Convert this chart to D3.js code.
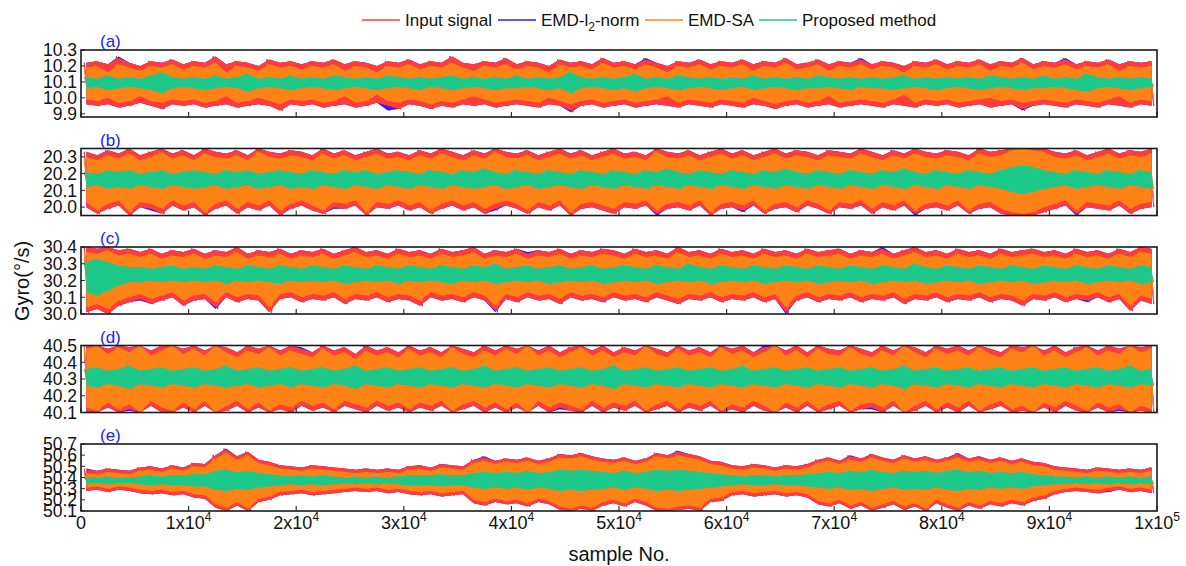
<!DOCTYPE html>
<html>
<head>
<meta charset="utf-8">
<script src="https://cdn.jsdelivr.net/npm/d3@7"></script>
<style>
  html, body { margin: 0; padding: 0; background: #fff; }
  svg { display: block; font-family: "Liberation Sans", Arial, Helvetica, sans-serif; }
</style>
</head>
<body>
<svg id="chart" width="1186" height="566"></svg>
<script>
// Gyro output (°/s) at five constant rates, 100000 samples per trace.
// Each trace is stored min/max-decimated: 100 blocks of 1000 samples,
// written as (block max, block min) pairs.
const seriesNames = ["Input signal", "EMD-l2-norm", "EMD-SA", "Proposed method"];
const panelLabels = ["(a)", "(b)", "(c)", "(d)", "(e)"];
const sampleCount = 100000;

const xTickValues = [0, 10000, 20000, 30000, 40000, 50000, 60000, 70000, 80000, 90000, 100000];
const xTickLabels = ["0", "1x10^4", "2x10^4", "3x10^4", "4x10^4", "5x10^4", "6x10^4", "7x10^4", "8x10^4", "9x10^4", "1x10^5"];

const yDomains = [[9.88, 10.30], [19.95, 20.35], [30.0, 30.4], [40.1, 40.5], [50.1, 50.7]];
const yTicksA = [9.9, 10.0, 10.1, 10.2, 10.3];
const yTicksB = [20.0, 20.1, 20.2, 20.3];
const yTicksC = [30.0, 30.1, 30.2, 30.3, 30.4];
const yTicksD = [40.1, 40.2, 40.3, 40.4, 40.5];
const yTicksE = [50.1, 50.2, 50.3, 50.4, 50.5, 50.6, 50.7];

// ---- panel (a): 10 °/s ----
const aInput = [
10.22,9.96,10.23,9.95,10.21,9.96,10.25,9.94,10.22,9.95,10.20,9.97,10.23,9.95,10.22,9.93,10.24,9.96,10.21,9.95,
10.23,9.96,10.22,9.94,10.26,9.95,10.21,9.96,10.23,9.94,10.22,9.95,10.20,9.96,10.24,9.95,10.22,9.92,10.23,9.96,
10.21,9.95,10.23,9.96,10.22,9.94,10.24,9.95,10.21,9.96,10.23,9.94,10.22,9.95,10.20,9.97,10.23,9.95,10.22,9.93,
10.24,9.96,10.21,9.95,10.23,9.93,10.22,9.95,10.26,9.94,10.22,9.96,10.21,9.95,10.23,9.96,10.22,9.94,10.25,9.95,
10.21,9.96,10.23,9.95,10.22,9.94,10.20,9.96,10.24,9.95,10.22,9.92,10.23,9.95,10.21,9.96,10.25,9.94,10.22,9.95,
10.23,9.96,10.21,9.94,10.24,9.95,10.22,9.96,10.20,9.95,10.23,9.94,10.22,9.96,10.24,9.95,10.21,9.94,10.23,9.96,
10.22,9.95,10.24,9.94,10.21,9.96,10.23,9.95,10.22,9.93,10.25,9.95,10.21,9.96,10.22,9.94,10.24,9.95,10.21,9.96,
10.23,9.94,10.22,9.95,10.24,9.96,10.21,9.95,10.23,9.94,10.22,9.96,10.20,9.95,10.23,9.94,10.22,9.96,10.24,9.95,
10.21,9.96,10.23,9.94,10.22,9.95,10.24,9.96,10.21,9.94,10.23,9.95,10.22,9.96,10.25,9.93,10.21,9.95,10.23,9.96,
10.22,9.95,10.24,9.94,10.21,9.96,10.23,9.95,10.22,9.94,10.24,9.96,10.21,9.95,10.23,9.94,10.22,9.96,10.23,9.95];
const aL2 = [
10.22,9.96,10.23,9.95,10.21,9.96,10.26,9.94,10.22,9.95,10.20,9.97,10.23,9.95,10.22,9.93,10.24,9.96,10.21,9.95,
10.23,9.96,10.22,9.94,10.26,9.95,10.21,9.96,10.23,9.94,10.22,9.95,10.20,9.96,10.24,9.95,10.22,9.92,10.23,9.96,
10.21,9.95,10.23,9.96,10.22,9.94,10.24,9.95,10.21,9.96,10.23,9.94,10.22,9.95,10.20,9.97,10.23,9.92,10.22,9.93,
10.24,9.96,10.21,9.95,10.23,9.93,10.22,9.95,10.26,9.94,10.22,9.96,10.21,9.95,10.23,9.96,10.22,9.94,10.25,9.95,
10.21,9.96,10.23,9.95,10.22,9.94,10.20,9.96,10.24,9.95,10.22,9.91,10.23,9.95,10.21,9.96,10.25,9.94,10.22,9.95,
10.23,9.96,10.21,9.94,10.25,9.95,10.22,9.96,10.20,9.95,10.23,9.94,10.22,9.96,10.24,9.95,10.21,9.94,10.23,9.96,
10.22,9.95,10.24,9.94,10.21,9.96,10.23,9.95,10.22,9.93,10.25,9.95,10.21,9.96,10.22,9.94,10.24,9.95,10.21,9.96,
10.23,9.94,10.22,9.95,10.25,9.96,10.21,9.95,10.23,9.94,10.22,9.96,10.20,9.95,10.23,9.94,10.22,9.96,10.24,9.95,
10.21,9.96,10.23,9.94,10.22,9.95,10.24,9.96,10.21,9.94,10.23,9.95,10.22,9.96,10.25,9.92,10.21,9.95,10.23,9.96,
10.22,9.95,10.25,9.94,10.21,9.96,10.23,9.95,10.22,9.94,10.24,9.96,10.21,9.95,10.23,9.94,10.22,9.96,10.23,9.95];
const aSA = [
10.19,9.99,10.20,9.98,10.16,10.00,10.21,9.97,10.19,9.98,10.17,10.01,10.20,9.98,10.19,9.97,10.21,9.99,10.18,9.98,
10.20,9.99,10.19,9.97,10.22,9.98,10.16,10.01,10.20,9.97,10.19,9.98,10.17,10.00,10.21,9.98,10.19,9.96,10.20,9.99,
10.18,9.98,10.20,9.99,10.19,9.97,10.21,9.98,10.17,10.01,10.20,9.97,10.19,9.98,10.16,10.02,10.20,9.98,10.19,9.97,
10.21,9.99,10.18,9.98,10.20,9.96,10.19,9.98,10.22,9.97,10.19,9.99,10.17,10.01,10.20,9.99,10.19,9.97,10.21,9.98,
10.18,9.99,10.20,9.98,10.19,9.97,10.16,10.00,10.21,9.98,10.19,9.96,10.20,9.98,10.18,9.99,10.22,9.97,10.19,9.98,
10.20,9.99,10.18,9.97,10.21,9.98,10.19,9.99,10.16,10.01,10.20,9.97,10.19,9.99,10.21,9.98,10.18,9.97,10.20,9.99,
10.19,9.98,10.21,9.97,10.17,10.00,10.20,9.98,10.19,9.96,10.22,9.98,10.18,9.99,10.19,9.97,10.21,9.98,10.17,10.01,
10.20,9.97,10.19,9.98,10.21,9.99,10.18,9.98,10.20,9.97,10.19,9.99,10.16,10.02,10.20,9.97,10.19,9.99,10.21,9.98,
10.18,9.99,10.20,9.97,10.19,9.98,10.21,9.99,10.17,10.00,10.20,9.98,10.19,9.99,10.22,9.97,10.18,9.98,10.20,9.99,
10.19,9.98,10.21,9.97,10.18,9.99,10.20,9.98,10.19,9.97,10.21,9.99,10.17,10.01,10.20,9.97,10.19,9.99,10.20,9.98];
const aProp = [
10.13,10.06,10.12,10.07,10.14,10.05,10.12,10.06,10.13,10.07,10.12,10.06,10.14,10.05,10.16,10.03,10.13,10.06,10.12,10.07,
10.13,10.06,10.12,10.05,10.14,10.06,10.12,10.07,10.13,10.06,10.15,10.04,10.12,10.06,10.13,10.07,10.12,10.06,10.14,10.05,
10.12,10.06,10.13,10.07,10.12,10.06,10.14,10.05,10.13,10.06,10.12,10.07,10.13,10.06,10.12,10.05,10.14,10.06,10.13,10.07,
10.12,10.06,10.13,10.05,10.12,10.07,10.13,10.06,10.14,10.05,10.12,10.06,10.13,10.07,10.12,10.06,10.13,10.05,10.12,10.06,
10.14,10.06,10.12,10.07,10.13,10.06,10.12,10.05,10.13,10.06,10.16,10.03,10.13,10.06,10.12,10.07,10.13,10.06,10.12,10.05,
10.13,10.06,10.15,10.04,10.12,10.06,10.13,10.07,10.12,10.06,10.14,10.05,10.13,10.06,10.12,10.07,10.13,10.06,10.12,10.05,
10.13,10.06,10.12,10.07,10.14,10.05,10.12,10.06,10.13,10.07,10.12,10.06,10.13,10.05,10.12,10.06,10.14,10.06,10.13,10.07,
10.12,10.06,10.13,10.05,10.12,10.07,10.13,10.06,10.12,10.06,10.13,10.05,10.14,10.06,10.12,10.07,10.13,10.06,10.12,10.05,
10.13,10.06,10.12,10.07,10.13,10.06,10.12,10.05,10.14,10.06,10.13,10.07,10.12,10.06,10.13,10.05,10.12,10.06,10.14,10.06,
10.12,10.07,10.13,10.06,10.12,10.05,10.15,10.04,10.13,10.06,10.12,10.07,10.13,10.06,10.12,10.05,10.13,10.06,10.12,10.07];

// ---- panel (b): 20 °/s ----
const bInput = [
20.33,20.00,20.31,19.96,20.34,19.99,20.32,20.01,20.35,19.95,20.31,20.00,20.33,19.99,20.35,19.96,20.32,20.01,20.34,19.98,
20.31,20.00,20.35,19.95,20.33,19.99,20.32,20.01,20.34,19.96,20.31,20.00,20.35,19.98,20.33,20.01,20.32,19.95,20.34,19.99,
20.33,20.01,20.31,19.98,20.35,19.96,20.32,20.00,20.34,19.99,20.31,20.01,20.33,19.95,20.35,20.00,20.32,19.99,20.33,20.01,
20.31,19.98,20.34,20.00,20.32,19.96,20.35,19.99,20.33,20.01,20.31,19.98,20.34,20.00,20.32,19.96,20.35,19.99,20.33,20.01,
20.32,19.99,20.34,19.96,20.31,20.00,20.33,19.98,20.35,20.01,20.32,19.95,20.34,19.99,20.31,20.00,20.33,19.98,20.35,19.96,
20.32,20.00,20.33,19.99,20.31,20.01,20.35,19.96,20.33,19.99,20.32,20.00,20.34,19.98,20.31,20.01,20.33,19.95,20.35,19.99,
20.32,20.00,20.34,19.98,20.31,20.01,20.33,19.96,20.35,19.99,20.32,20.00,20.34,19.97,20.33,20.01,20.31,19.99,20.34,19.96,
20.33,20.00,20.32,19.99,20.35,20.01,20.33,19.96,20.31,20.00,20.34,19.98,20.32,20.01,20.35,19.96,20.33,19.99,20.32,20.00,
20.34,19.98,20.33,20.01,20.31,19.96,20.35,19.99,20.33,20.00,20.34,19.96,20.35,19.95,20.35,19.95,20.35,19.95,20.35,19.97,
20.33,19.99,20.32,20.01,20.34,19.96,20.31,20.00,20.33,19.99,20.35,19.98,20.32,20.01,20.34,19.96,20.33,19.99,20.35,20.00];
const bL2 = [
20.33,20.00,20.31,19.96,20.34,19.99,20.32,20.01,20.35,19.95,20.31,20.00,20.33,19.98,20.35,19.96,20.32,20.01,20.34,19.98,
20.31,20.00,20.35,19.95,20.33,19.99,20.32,20.01,20.34,19.96,20.31,20.00,20.35,19.98,20.33,20.01,20.32,19.95,20.34,19.99,
20.33,20.01,20.31,19.98,20.35,19.96,20.32,19.99,20.34,19.99,20.31,20.01,20.33,19.95,20.35,20.00,20.32,19.99,20.33,20.01,
20.31,19.98,20.34,20.00,20.32,19.96,20.35,19.99,20.33,20.01,20.31,19.98,20.34,20.00,20.32,19.96,20.35,19.98,20.33,20.01,
20.32,19.99,20.34,19.96,20.31,20.00,20.33,19.98,20.35,20.01,20.32,19.95,20.34,19.99,20.31,20.00,20.33,19.98,20.35,19.96,
20.32,20.00,20.33,19.99,20.31,20.01,20.35,19.95,20.33,19.99,20.32,20.00,20.34,19.98,20.31,20.01,20.33,19.95,20.35,19.99,
20.32,20.00,20.34,19.97,20.31,20.01,20.33,19.96,20.35,19.99,20.32,20.00,20.34,19.97,20.33,20.01,20.31,19.99,20.34,19.96,
20.33,20.00,20.32,19.99,20.35,20.01,20.33,19.96,20.31,20.00,20.34,19.98,20.32,20.01,20.35,19.95,20.33,19.99,20.32,20.00,
20.34,19.98,20.33,20.01,20.31,19.96,20.35,19.99,20.33,20.00,20.34,19.96,20.35,19.95,20.35,19.95,20.35,19.95,20.35,19.97,
20.33,19.99,20.32,20.01,20.34,19.95,20.31,20.00,20.33,19.99,20.35,19.98,20.32,20.01,20.34,19.96,20.33,19.99,20.35,20.00];
const bSA = [
20.30,20.03,20.28,19.98,20.31,20.02,20.29,20.04,20.32,19.97,20.28,20.03,20.30,20.02,20.33,19.99,20.29,20.04,20.31,20.01,
20.28,20.03,20.32,19.97,20.30,20.02,20.29,20.04,20.31,19.99,20.28,20.03,20.33,20.01,20.30,20.04,20.29,19.98,20.31,20.02,
20.30,20.04,20.28,20.01,20.32,19.98,20.29,20.03,20.31,20.02,20.28,20.04,20.30,19.97,20.32,20.03,20.29,20.02,20.30,20.04,
20.28,20.01,20.31,20.03,20.29,19.98,20.32,20.02,20.30,20.04,20.28,20.01,20.31,20.03,20.29,19.99,20.33,20.02,20.30,20.04,
20.29,20.02,20.31,19.98,20.28,20.03,20.30,20.01,20.32,20.04,20.29,19.97,20.31,20.02,20.28,20.03,20.30,20.01,20.32,19.99,
20.29,20.03,20.30,20.02,20.28,20.04,20.33,19.98,20.30,20.02,20.29,20.03,20.31,20.01,20.28,20.04,20.30,19.97,20.32,20.02,
20.29,20.03,20.31,20.01,20.28,20.04,20.30,19.98,20.32,20.02,20.29,20.03,20.31,20.00,20.30,20.04,20.28,20.02,20.31,19.98,
20.30,20.03,20.29,20.02,20.32,20.04,20.30,19.99,20.28,20.03,20.31,20.01,20.29,20.04,20.32,19.98,20.30,20.02,20.29,20.03,
20.31,20.01,20.30,20.04,20.28,19.98,20.32,20.02,20.30,20.03,20.31,19.99,20.34,19.97,20.35,19.96,20.34,19.97,20.33,20.00,
20.30,20.02,20.29,20.04,20.31,19.98,20.28,20.03,20.30,20.02,20.32,20.01,20.29,20.04,20.31,19.99,20.30,20.02,20.32,20.03];
const bProp = [
20.21,20.12,20.20,20.13,20.22,20.11,20.21,20.12,20.22,20.11,20.20,20.13,20.21,20.12,20.22,20.11,20.20,20.13,20.21,20.12,
20.22,20.11,20.21,20.12,20.20,20.13,20.22,20.11,20.21,20.12,20.22,20.13,20.20,20.11,20.21,20.12,20.22,20.13,20.21,20.11,
20.20,20.12,20.22,20.11,20.21,20.13,20.20,20.12,20.22,20.11,20.21,20.13,20.22,20.12,20.20,20.11,20.21,20.13,20.22,20.12,
20.21,20.11,20.20,20.13,20.22,20.12,20.21,20.11,20.20,20.13,20.22,20.12,20.21,20.11,20.23,20.12,20.21,20.13,20.20,20.11,
20.22,20.12,20.21,20.13,20.20,20.11,20.22,20.12,20.21,20.13,20.20,20.12,20.22,20.11,20.21,20.13,20.20,20.12,20.22,20.11,
20.21,20.13,20.20,20.12,20.22,20.11,20.21,20.13,20.23,20.12,20.21,20.11,20.20,20.13,20.22,20.12,20.21,20.11,20.20,20.13,
20.22,20.12,20.21,20.11,20.20,20.13,20.22,20.12,20.21,20.11,20.23,20.13,20.21,20.12,20.20,20.11,20.22,20.13,20.21,20.12,
20.20,20.11,20.22,20.13,20.21,20.12,20.20,20.11,20.22,20.13,20.21,20.12,20.23,20.11,20.21,20.13,20.20,20.12,20.22,20.11,
20.21,20.13,20.20,20.12,20.22,20.11,20.21,20.13,20.20,20.12,20.22,20.11,20.24,20.09,20.25,20.08,20.24,20.09,20.22,20.11,
20.21,20.12,20.20,20.13,20.22,20.11,20.21,20.12,20.20,20.13,20.22,20.12,20.21,20.11,20.20,20.13,20.22,20.12,20.21,20.11];

// ---- panel (c): 30 °/s ----
const cInput = [
30.40,30.01,30.39,30.03,30.40,30.00,30.38,30.05,30.39,30.07,30.37,30.09,30.39,30.06,30.36,30.08,30.38,30.10,30.37,30.05,
30.39,30.08,30.36,30.09,30.38,30.04,30.37,30.10,30.40,30.07,30.36,30.09,30.38,30.08,30.37,30.01,30.39,30.09,30.36,30.10,
30.38,30.07,30.37,30.09,30.39,30.08,30.36,30.10,30.38,30.06,30.40,30.09,30.37,30.08,30.38,30.10,30.36,30.07,30.39,30.09,
30.37,30.08,30.38,30.05,30.36,30.10,30.39,30.08,30.37,30.09,30.38,30.07,30.40,30.10,30.36,30.08,30.38,30.02,30.37,30.09,
30.39,30.07,30.36,30.10,30.38,30.08,30.37,30.09,30.39,30.06,30.36,30.10,30.38,30.08,30.37,30.09,30.39,30.07,30.38,30.10,
30.36,30.08,30.39,30.09,30.37,30.07,30.38,30.10,30.36,30.08,30.40,30.06,30.37,30.09,30.38,30.08,30.36,30.10,30.39,30.07,
30.37,30.09,30.38,30.08,30.36,30.10,30.39,30.07,30.37,30.09,30.38,30.01,30.36,30.08,30.39,30.10,30.37,30.07,30.38,30.09,
30.39,30.08,30.36,30.10,30.38,30.07,30.37,30.09,30.39,30.08,30.36,30.10,30.38,30.06,30.40,30.09,30.37,30.08,30.38,30.10,
30.36,30.07,30.39,30.09,30.37,30.08,30.38,30.10,30.36,30.07,30.39,30.09,30.37,30.08,30.38,30.05,30.39,30.09,30.37,30.08,
30.38,30.10,30.36,30.07,30.39,30.09,30.37,30.08,30.38,30.10,30.36,30.07,30.39,30.09,30.37,30.02,30.40,30.08,30.39,30.06];
const cL2 = [
30.40,30.01,30.39,30.03,30.40,30.00,30.38,30.05,30.39,30.07,30.37,30.08,30.39,30.06,30.36,30.08,30.38,30.10,30.37,30.05,
30.39,30.08,30.36,30.09,30.38,30.03,30.37,30.10,30.40,30.07,30.36,30.09,30.38,30.08,30.37,30.01,30.39,30.09,30.36,30.10,
30.38,30.07,30.37,30.09,30.39,30.08,30.36,30.10,30.38,30.06,30.40,30.09,30.37,30.08,30.38,30.10,30.36,30.07,30.39,30.09,
30.37,30.08,30.38,30.05,30.36,30.10,30.39,30.08,30.37,30.09,30.38,30.07,30.40,30.10,30.36,30.08,30.38,30.01,30.37,30.09,
30.39,30.07,30.37,30.10,30.38,30.08,30.37,30.09,30.39,30.06,30.36,30.10,30.38,30.08,30.37,30.09,30.39,30.07,30.38,30.10,
30.36,30.08,30.39,30.09,30.37,30.07,30.38,30.10,30.36,30.08,30.40,30.06,30.37,30.09,30.38,30.08,30.36,30.10,30.39,30.07,
30.37,30.09,30.38,30.08,30.36,30.10,30.39,30.07,30.37,30.09,30.38,30.00,30.36,30.08,30.39,30.10,30.37,30.07,30.38,30.09,
30.39,30.08,30.36,30.10,30.38,30.07,30.37,30.09,30.40,30.08,30.36,30.10,30.38,30.06,30.40,30.09,30.37,30.08,30.38,30.10,
30.36,30.07,30.39,30.09,30.37,30.08,30.38,30.10,30.36,30.07,30.39,30.09,30.37,30.08,30.38,30.05,30.39,30.09,30.37,30.08,
30.38,30.10,30.36,30.07,30.39,30.09,30.37,30.07,30.38,30.10,30.36,30.07,30.39,30.09,30.37,30.02,30.40,30.08,30.39,30.06];
const cSA = [
30.37,30.04,30.36,30.06,30.38,30.03,30.35,30.08,30.36,30.10,30.34,30.12,30.36,30.09,30.33,30.11,30.35,30.13,30.34,30.08,
30.36,30.11,30.33,30.12,30.35,30.07,30.34,30.13,30.37,30.10,30.33,30.12,30.35,30.11,30.34,30.04,30.36,30.12,30.33,30.13,
30.35,30.10,30.34,30.12,30.36,30.11,30.33,30.13,30.35,30.09,30.37,30.12,30.34,30.11,30.35,30.13,30.33,30.10,30.36,30.12,
30.34,30.11,30.35,30.08,30.33,30.13,30.36,30.11,30.34,30.12,30.35,30.10,30.37,30.13,30.33,30.11,30.35,30.05,30.34,30.12,
30.36,30.10,30.33,30.13,30.35,30.11,30.34,30.12,30.36,30.09,30.33,30.13,30.35,30.11,30.34,30.12,30.36,30.10,30.35,30.13,
30.33,30.11,30.36,30.12,30.34,30.10,30.35,30.13,30.33,30.11,30.37,30.09,30.34,30.12,30.35,30.11,30.33,30.13,30.36,30.10,
30.34,30.12,30.35,30.11,30.33,30.13,30.36,30.10,30.34,30.12,30.35,30.04,30.33,30.11,30.36,30.13,30.34,30.10,30.35,30.12,
30.36,30.11,30.33,30.13,30.35,30.10,30.34,30.12,30.36,30.11,30.33,30.13,30.35,30.09,30.37,30.12,30.34,30.11,30.35,30.13,
30.33,30.10,30.36,30.12,30.34,30.11,30.35,30.13,30.33,30.10,30.36,30.12,30.34,30.11,30.35,30.08,30.36,30.12,30.34,30.11,
30.35,30.13,30.33,30.10,30.36,30.12,30.34,30.11,30.35,30.13,30.33,30.10,30.36,30.12,30.34,30.05,30.37,30.11,30.36,30.09];
const cProp = [
30.31,30.13,30.33,30.11,30.31,30.14,30.29,30.17,30.28,30.19,30.28,30.19,30.27,30.20,30.28,30.19,30.29,30.20,30.27,30.19,
30.28,30.20,30.27,30.19,30.29,30.20,30.28,30.18,30.27,30.20,30.29,30.19,30.28,30.20,30.27,30.19,30.29,30.18,30.28,30.20,
30.27,30.19,30.29,30.20,30.28,30.19,30.27,30.20,30.29,30.18,30.28,30.19,30.27,30.20,30.29,30.19,30.28,30.20,30.27,30.18,
30.29,30.20,30.28,30.19,30.27,30.20,30.29,30.19,30.28,30.18,30.27,30.20,30.29,30.19,30.28,30.20,30.30,30.18,30.27,30.19,
30.28,30.20,30.29,30.19,30.27,30.20,30.28,30.18,30.29,30.19,30.27,30.20,30.28,30.19,30.29,30.20,30.27,30.18,30.28,30.19,
30.29,30.20,30.28,30.19,30.27,30.20,30.29,30.18,30.28,30.19,30.27,30.20,30.30,30.19,30.28,30.20,30.27,30.18,30.29,30.19,
30.28,30.20,30.27,30.19,30.29,30.20,30.28,30.18,30.27,30.19,30.29,30.20,30.28,30.19,30.27,30.20,30.29,30.18,30.28,30.19,
30.27,30.20,30.29,30.19,30.28,30.20,30.27,30.18,30.29,30.19,30.28,30.20,30.27,30.19,30.30,30.20,30.28,30.18,30.27,30.19,
30.29,30.20,30.28,30.19,30.27,30.20,30.29,30.18,30.28,30.19,30.27,30.20,30.29,30.19,30.28,30.20,30.27,30.18,30.29,30.19,
30.28,30.20,30.27,30.19,30.29,30.20,30.28,30.18,30.27,30.19,30.29,30.20,30.28,30.19,30.27,30.20,30.29,30.18,30.28,30.19];

// ---- panel (d): 40 °/s ----
const dInput = [
40.50,40.10,40.50,40.10,40.48,40.13,40.50,40.10,40.49,40.12,40.50,40.10,40.47,40.14,40.50,40.10,40.50,40.10,40.48,40.13,
40.50,40.10,40.47,40.14,40.50,40.10,40.49,40.11,40.46,40.14,40.50,40.10,40.48,40.13,40.50,40.10,40.47,40.12,40.50,40.10,
40.48,40.14,40.46,40.11,40.50,40.13,40.47,40.10,40.49,40.14,40.45,40.12,40.50,40.10,40.47,40.14,40.49,40.11,40.46,40.13,
40.50,40.10,40.47,40.13,40.49,40.11,40.46,40.14,40.50,40.10,40.48,40.12,40.46,40.14,40.50,40.10,40.47,40.13,40.50,40.10,
40.48,40.13,40.50,40.10,40.47,40.14,40.50,40.10,40.46,40.13,40.49,40.11,40.50,40.10,40.47,40.14,40.50,40.10,40.46,40.13,
40.49,40.11,40.47,40.14,40.50,40.10,40.48,40.12,40.46,40.14,40.50,40.10,40.47,40.13,40.49,40.11,40.46,40.14,40.50,40.10,
40.48,40.12,40.50,40.10,40.46,40.14,40.49,40.11,40.50,40.10,40.47,40.13,40.50,40.10,40.46,40.14,40.50,40.10,40.48,40.12,
40.47,40.14,40.50,40.10,40.48,40.12,40.46,40.13,40.50,40.10,40.47,40.14,40.50,40.10,40.49,40.11,40.46,40.14,40.50,40.10,
40.48,40.13,40.50,40.10,40.47,40.14,40.50,40.10,40.48,40.12,40.46,40.14,40.50,40.10,40.49,40.11,40.50,40.10,40.47,40.13,
40.50,40.10,40.46,40.14,40.49,40.11,40.50,40.10,40.47,40.13,40.50,40.10,40.48,40.12,40.50,40.10,40.49,40.11,40.50,40.10];
const dL2 = [
40.50,40.10,40.50,40.10,40.48,40.13,40.50,40.10,40.49,40.11,40.50,40.10,40.47,40.14,40.50,40.10,40.50,40.10,40.48,40.13,
40.50,40.10,40.47,40.14,40.50,40.10,40.49,40.11,40.46,40.14,40.50,40.10,40.48,40.13,40.50,40.10,40.47,40.12,40.50,40.10,
40.49,40.14,40.46,40.11,40.50,40.13,40.47,40.10,40.49,40.14,40.45,40.12,40.50,40.10,40.47,40.14,40.49,40.11,40.46,40.13,
40.50,40.10,40.47,40.13,40.49,40.11,40.46,40.14,40.50,40.10,40.48,40.12,40.46,40.14,40.50,40.10,40.47,40.13,40.50,40.10,
40.48,40.13,40.50,40.10,40.47,40.14,40.50,40.10,40.46,40.12,40.49,40.11,40.50,40.10,40.47,40.14,40.50,40.10,40.46,40.13,
40.49,40.11,40.47,40.14,40.50,40.10,40.48,40.12,40.46,40.14,40.50,40.10,40.47,40.13,40.49,40.11,40.46,40.14,40.50,40.10,
40.48,40.12,40.50,40.10,40.46,40.14,40.50,40.11,40.50,40.10,40.47,40.13,40.50,40.10,40.46,40.14,40.50,40.10,40.48,40.12,
40.47,40.14,40.50,40.10,40.48,40.12,40.46,40.12,40.50,40.10,40.47,40.14,40.50,40.10,40.49,40.11,40.46,40.14,40.50,40.10,
40.48,40.13,40.50,40.10,40.47,40.14,40.50,40.10,40.48,40.12,40.46,40.14,40.50,40.10,40.49,40.11,40.50,40.10,40.47,40.13,
40.50,40.10,40.46,40.14,40.49,40.11,40.50,40.10,40.47,40.13,40.50,40.10,40.48,40.11,40.50,40.10,40.49,40.11,40.50,40.10];
const dSA = [
40.48,40.13,40.50,40.11,40.45,40.16,40.49,40.12,40.46,40.15,40.50,40.10,40.44,40.17,40.47,40.13,40.50,40.11,40.45,40.16,
40.48,40.12,40.44,40.17,40.50,40.10,40.46,40.14,40.43,40.17,40.47,40.12,40.45,40.16,40.49,40.11,40.44,40.15,40.47,40.13,
40.45,40.17,40.43,40.14,40.48,40.16,40.44,40.12,40.46,40.17,40.42,40.15,40.47,40.13,40.44,40.17,40.46,40.14,40.43,40.16,
40.48,40.12,40.44,40.16,40.46,40.14,40.43,40.17,40.49,40.11,40.45,40.15,40.43,40.17,40.47,40.13,40.44,40.16,40.48,40.12,
40.45,40.16,40.50,40.10,40.44,40.17,40.47,40.13,40.43,40.16,40.46,40.14,40.49,40.12,40.44,40.17,40.47,40.13,40.43,40.16,
40.46,40.14,40.44,40.17,40.50,40.11,40.45,40.15,40.43,40.17,40.48,40.12,40.44,40.16,40.46,40.14,40.43,40.17,40.49,40.11,
40.45,40.15,40.47,40.13,40.43,40.17,40.46,40.14,40.50,40.10,40.44,40.16,40.47,40.13,40.43,40.17,40.48,40.12,40.45,40.15,
40.44,40.17,40.49,40.11,40.45,40.15,40.43,40.16,40.47,40.13,40.44,40.17,40.50,40.10,40.46,40.14,40.43,40.17,40.48,40.12,
40.45,40.16,40.47,40.13,40.44,40.17,40.49,40.11,40.45,40.15,40.43,40.17,40.48,40.12,40.46,40.14,40.50,40.10,40.44,40.16,
40.47,40.13,40.43,40.17,40.46,40.14,40.49,40.11,40.44,40.16,40.47,40.13,40.45,40.15,40.50,40.10,40.46,40.14,40.48,40.12];
const dProp = [
40.36,40.26,40.37,40.25,40.35,40.27,40.36,40.26,40.38,40.24,40.35,40.27,40.36,40.26,40.37,40.25,40.35,40.27,40.36,40.26,
40.37,40.25,40.35,40.27,40.36,40.26,40.38,40.25,40.35,40.26,40.36,40.27,40.37,40.25,40.35,40.26,40.36,40.27,40.37,40.25,
40.35,40.27,40.36,40.26,40.37,40.25,40.35,40.27,40.36,40.26,40.38,40.24,40.35,40.27,40.36,40.26,40.37,40.25,40.35,40.27,
40.36,40.26,40.37,40.25,40.35,40.27,40.36,40.26,40.37,40.25,40.35,40.27,40.36,40.26,40.38,40.25,40.35,40.27,40.36,40.26,
40.37,40.25,40.35,40.27,40.36,40.26,40.37,40.25,40.35,40.27,40.36,40.26,40.37,40.25,40.35,40.27,40.36,40.26,40.38,40.24,
40.35,40.27,40.36,40.26,40.37,40.25,40.35,40.27,40.36,40.26,40.37,40.25,40.35,40.27,40.36,40.26,40.37,40.25,40.35,40.27,
40.36,40.26,40.38,40.25,40.35,40.27,40.36,40.26,40.37,40.25,40.35,40.27,40.36,40.26,40.37,40.25,40.35,40.27,40.36,40.26,
40.37,40.25,40.35,40.27,40.36,40.26,40.37,40.25,40.35,40.27,40.36,40.26,40.38,40.24,40.35,40.27,40.36,40.26,40.37,40.25,
40.35,40.27,40.36,40.26,40.37,40.25,40.35,40.27,40.36,40.26,40.37,40.25,40.35,40.27,40.36,40.26,40.37,40.25,40.35,40.27,
40.36,40.26,40.37,40.25,40.35,40.27,40.36,40.26,40.37,40.25,40.35,40.27,40.36,40.26,40.38,40.25,40.35,40.27,40.36,40.26];

// ---- panel (e): 50 °/s ----
const eInput = [
50.47,50.28,50.46,50.29,50.48,50.27,50.47,50.29,50.46,50.28,50.49,50.26,50.50,50.25,50.48,50.26,50.51,50.24,50.49,50.25,
50.53,50.22,50.52,50.21,50.60,50.13,50.65,50.10,50.59,50.15,50.63,50.10,50.56,50.18,50.54,50.20,50.51,50.24,50.50,50.25,
50.49,50.26,50.51,50.24,50.50,50.25,50.49,50.26,50.48,50.27,50.47,50.28,50.48,50.27,50.47,50.28,50.48,50.26,50.47,50.27,
50.50,50.25,50.51,50.24,50.49,50.25,50.52,50.23,50.51,50.24,50.50,50.25,50.56,50.17,50.58,50.15,50.55,50.18,50.57,50.16,
50.56,50.17,50.58,50.14,50.55,50.18,50.57,50.16,50.61,50.11,50.60,50.10,50.62,50.12,50.59,50.10,50.57,50.15,50.56,50.17,
50.58,50.14,50.55,50.18,50.57,50.15,50.62,50.10,50.60,50.10,50.63,50.11,50.61,50.12,50.59,50.10,50.55,50.18,50.54,50.19,
50.51,50.24,50.50,50.25,50.52,50.23,50.51,50.24,50.49,50.25,50.51,50.23,50.50,50.24,50.52,50.22,50.56,50.16,50.58,50.14,
50.55,50.17,50.59,50.12,50.57,50.15,50.61,50.10,50.58,50.13,50.56,50.16,50.60,50.11,50.57,50.14,50.59,50.10,50.56,50.17,
50.58,50.13,50.61,50.10,50.57,50.15,50.59,50.12,50.56,50.16,50.58,50.14,50.55,50.17,50.57,50.15,50.54,50.19,50.53,50.21,
50.50,50.25,50.49,50.27,50.48,50.28,50.47,50.27,50.49,50.26,50.48,50.28,50.47,50.29,50.48,50.27,50.47,50.28,50.49,50.26];
const eL2 = [
50.48,50.28,50.46,50.29,50.48,50.27,50.47,50.29,50.46,50.28,50.49,50.26,50.50,50.25,50.48,50.26,50.51,50.24,50.49,50.25,
50.53,50.22,50.52,50.21,50.60,50.13,50.66,50.10,50.59,50.15,50.63,50.10,50.56,50.18,50.54,50.20,50.51,50.24,50.50,50.25,
50.49,50.26,50.51,50.24,50.50,50.25,50.49,50.26,50.48,50.27,50.47,50.28,50.48,50.27,50.47,50.28,50.48,50.26,50.47,50.27,
50.50,50.25,50.51,50.24,50.49,50.25,50.52,50.23,50.51,50.24,50.50,50.25,50.56,50.17,50.59,50.15,50.55,50.18,50.57,50.16,
50.56,50.17,50.58,50.14,50.55,50.18,50.57,50.16,50.61,50.11,50.60,50.10,50.62,50.12,50.59,50.10,50.57,50.15,50.56,50.17,
50.58,50.14,50.55,50.18,50.57,50.15,50.62,50.10,50.60,50.10,50.64,50.11,50.61,50.12,50.59,50.10,50.55,50.18,50.54,50.19,
50.51,50.24,50.50,50.25,50.52,50.23,50.51,50.24,50.49,50.25,50.51,50.23,50.50,50.24,50.52,50.22,50.56,50.16,50.58,50.14,
50.55,50.17,50.60,50.12,50.57,50.15,50.61,50.10,50.58,50.13,50.56,50.16,50.60,50.11,50.57,50.14,50.59,50.10,50.56,50.17,
50.58,50.13,50.62,50.10,50.57,50.15,50.59,50.12,50.56,50.16,50.58,50.14,50.55,50.17,50.57,50.15,50.54,50.19,50.53,50.21,
50.50,50.25,50.49,50.27,50.48,50.28,50.47,50.27,50.49,50.26,50.48,50.27,50.47,50.29,50.48,50.27,50.47,50.28,50.49,50.26];
const eSA = [
50.44,50.31,50.43,50.32,50.45,50.30,50.44,50.32,50.43,50.31,50.46,50.29,50.47,50.28,50.45,50.29,50.48,50.27,50.46,50.28,
50.50,50.25,50.49,50.24,50.57,50.16,50.62,50.13,50.56,50.18,50.60,50.12,50.53,50.21,50.51,50.23,50.48,50.27,50.47,50.28,
50.46,50.29,50.48,50.27,50.47,50.28,50.46,50.29,50.45,50.30,50.44,50.31,50.45,50.30,50.44,50.31,50.45,50.29,50.44,50.30,
50.47,50.28,50.48,50.27,50.46,50.28,50.49,50.26,50.48,50.27,50.47,50.28,50.53,50.20,50.55,50.18,50.52,50.21,50.54,50.19,
50.53,50.20,50.55,50.17,50.52,50.21,50.54,50.19,50.58,50.14,50.57,50.12,50.59,50.15,50.56,50.13,50.54,50.18,50.53,50.20,
50.55,50.17,50.52,50.21,50.54,50.18,50.59,50.13,50.57,50.12,50.60,50.14,50.58,50.15,50.56,50.13,50.52,50.21,50.51,50.22,
50.48,50.27,50.47,50.28,50.49,50.26,50.48,50.27,50.46,50.28,50.48,50.26,50.47,50.27,50.49,50.25,50.53,50.19,50.55,50.17,
50.52,50.20,50.56,50.15,50.54,50.18,50.58,50.13,50.55,50.16,50.53,50.19,50.57,50.14,50.54,50.17,50.56,50.12,50.53,50.20,
50.55,50.16,50.58,50.13,50.54,50.18,50.56,50.15,50.53,50.19,50.55,50.17,50.52,50.20,50.54,50.18,50.51,50.22,50.50,50.24,
50.47,50.28,50.46,50.30,50.45,50.31,50.44,50.30,50.46,50.29,50.45,50.31,50.44,50.32,50.45,50.30,50.44,50.31,50.46,50.29];
const eProp = [
50.40,50.35,50.40,50.35,50.41,50.34,50.40,50.35,50.40,50.35,50.41,50.34,50.42,50.33,50.41,50.34,50.42,50.33,50.42,50.33,
50.43,50.32,50.43,50.32,50.46,50.29,50.47,50.28,50.45,50.30,50.46,50.29,50.44,50.31,50.43,50.32,50.42,50.33,50.41,50.34,
50.42,50.33,50.41,50.34,50.42,50.33,50.41,50.34,50.40,50.35,50.41,50.34,50.40,50.35,50.41,50.34,50.40,50.35,50.41,50.34,
50.42,50.33,50.42,50.33,50.42,50.33,50.43,50.32,50.42,50.33,50.42,50.33,50.44,50.31,50.45,50.30,50.44,50.31,50.45,50.30,
50.44,50.31,50.46,50.29,50.44,50.31,50.45,50.30,50.47,50.28,50.46,50.29,50.47,50.28,50.46,50.29,50.45,50.30,50.44,50.31,
50.46,50.29,50.44,50.31,50.45,50.30,50.47,50.28,50.46,50.29,50.47,50.28,50.46,50.29,50.45,50.30,50.44,50.31,50.43,50.32,
50.42,50.33,50.41,50.34,50.42,50.33,50.42,50.33,50.41,50.34,50.42,50.33,50.42,50.33,50.43,50.32,50.44,50.31,50.45,50.30,
50.44,50.31,50.46,50.29,50.45,50.30,50.47,50.28,50.45,50.30,50.44,50.31,50.46,50.29,50.45,50.30,50.46,50.29,50.44,50.31,
50.46,50.29,50.47,50.28,50.45,50.30,50.46,50.29,50.44,50.31,50.45,50.30,50.44,50.31,50.45,50.30,50.43,50.32,50.42,50.33,
50.41,50.34,50.41,50.34,50.40,50.35,50.41,50.34,50.40,50.35,50.41,50.34,50.40,50.35,50.41,50.34,50.40,50.35,50.41,50.34];

// ---- drawing ----
const colors = ["#ff3b3b", "#3d12ff", "#ff8216", "#1dc98a"];
// l2 trace sits under the input trace; SA and the proposed method on top
const drawOrder = [1, 0, 2, 3];

const panelData = [
  { label: panelLabels[0], domain: yDomains[0], ticks: yTicksA, series: [aInput, aL2, aSA, aProp] },
  { label: panelLabels[1], domain: yDomains[1], ticks: yTicksB, series: [bInput, bL2, bSA, bProp] },
  { label: panelLabels[2], domain: yDomains[2], ticks: yTicksC, series: [cInput, cL2, cSA, cProp] },
  { label: panelLabels[3], domain: yDomains[3], ticks: yTicksD, series: [dInput, dL2, dSA, dProp] },
  { label: panelLabels[4], domain: yDomains[4], ticks: yTicksE, series: [eInput, eL2, eSA, eProp] }
];

const svg = d3.select("#chart");
const W = 1186, H = 566;
const left = 81, right = 1157;
const panelTop0 = 50, panelStep = 98.5, panelH = 67;

svg.append("rect").attr("width", W).attr("height", H).attr("fill", "#fff");

const x = d3.scaleLinear().domain([0, sampleCount]).range([left, right]);

// turn (max, min) pairs into one record per block
function toBlocks(values) {
  const n = values.length / 2;
  const block = sampleCount / n;
  return d3.range(n).map(k => ({
    start: k * block,
    mid: (k + 0.5) * block,
    end: (k + 1) * block,
    hi: values[2 * k],
    lo: values[2 * k + 1]
  }));
}

panelData.forEach((p, pi) => {
  const top = panelTop0 + pi * panelStep;
  const bottom = top + panelH;
  const y = d3.scaleLinear().domain(p.domain).range([bottom, top]);
  const g = svg.append("g").attr("class", "panel");

  const clipId = "clip-" + pi;
  g.append("clipPath").attr("id", clipId)
    .append("rect").attr("x", left).attr("y", top).attr("width", right - left).attr("height", panelH);

  const plot = g.append("g").attr("clip-path", `url(#${clipId})`);
  drawOrder.forEach(si => {
    const blocks = toBlocks(p.series[si]);
    // envelope of each block
    const band = d3.area()
      .x(d => x(d.mid))
      .y0(d => y(d.lo))
      .y1(d => y(d.hi));
    plot.append("path")
      .datum(blocks)
      .attr("d", band)
      .attr("fill", colors[si])
      .attr("stroke", "none");
    // decimated trace: max then min within each block
    const trace = [];
    blocks.forEach(b => {
      trace.push([b.start + (b.end - b.start) * 0.3, b.hi]);
      trace.push([b.start + (b.end - b.start) * 0.7, b.lo]);
    });
    plot.append("path")
      .datum(trace)
      .attr("d", d3.line().x(d => x(d[0])).y(d => y(d[1])))
      .attr("fill", "none")
      .attr("stroke", colors[si])
      .attr("stroke-width", si === 1 ? 0.8 : 1.1)
      .attr("stroke-linejoin", "round");
  });

  // y axis ticks (inward) and labels
  p.ticks.forEach(t => {
    g.append("line").attr("x1", left).attr("x2", left + 4)
      .attr("y1", y(t)).attr("y2", y(t)).attr("stroke", "#333").attr("stroke-width", 1);
    g.append("text").attr("x", left - 4).attr("y", y(t)).attr("dy", "0.36em")
      .attr("text-anchor", "end").attr("font-size", 17.5).attr("fill", "#111")
      .text(d3.format(".1f")(t));
  });

  // x ticks (inward) at the bottom of every panel
  xTickValues.forEach(v => {
    g.append("line").attr("x1", x(v)).attr("x2", x(v))
      .attr("y1", bottom).attr("y2", bottom - 5).attr("stroke", "#333").attr("stroke-width", 1.2);
  });

  // frame
  g.append("rect").attr("x", left).attr("y", top).attr("width", right - left).attr("height", panelH)
    .attr("fill", "none").attr("stroke", "#1a1a1a").attr("stroke-width", 1.6);

  // panel label
  g.append("text").attr("x", 100).attr("y", top - 3)
    .attr("font-size", 17).attr("fill", "#2020ff").text(p.label);

  // x tick labels under the last panel
  if (pi === panelData.length - 1) {
    xTickValues.forEach((v, k) => {
      const parts = xTickLabels[k].split("^");
      const t = g.append("text").attr("x", x(v)).attr("y", bottom + 18)
        .attr("text-anchor", "middle").attr("font-size", 18).attr("fill", "#111");
      t.append("tspan").text(parts[0]);
      if (parts[1]) {
        t.append("tspan").attr("dy", -8).attr("font-size", 12).text(parts[1]);
      }
    });
  }
});

// axis titles
svg.append("text").attr("x", (left + right) / 2).attr("y", 561)
  .attr("text-anchor", "middle").attr("font-size", 20).attr("fill", "#111").text("sample No.");
svg.append("text").attr("transform", "translate(29,281) rotate(-90)")
  .attr("text-anchor", "middle").attr("font-size", 20).attr("fill", "#111").text("Gyro(°/s)");

// legend
const legendItems = [
  { x1: 362, x2: 400, tx: 405 },
  { x1: 498, x2: 536, tx: 541 },
  { x1: 645, x2: 683, tx: 688 },
  { x1: 759, x2: 797, tx: 802 }
];
const legend = svg.append("g").attr("class", "legend");
legendItems.forEach((it, i) => {
  legend.append("line").attr("x1", it.x1).attr("x2", it.x2).attr("y1", 20).attr("y2", 20)
    .attr("stroke", colors[i]).attr("stroke-width", 1.3);
  const t = legend.append("text").attr("x", it.tx).attr("y", 26)
    .attr("font-size", 17).attr("fill", "#111");
  if (i === 1) {
    t.append("tspan").text("EMD-l");
    t.append("tspan").attr("dy", 5).attr("font-size", 12).text("2");
    t.append("tspan").attr("dy", -5).text("-norm");
  } else {
    t.text(seriesNames[i]);
  }
});
</script>
</body>
</html>
